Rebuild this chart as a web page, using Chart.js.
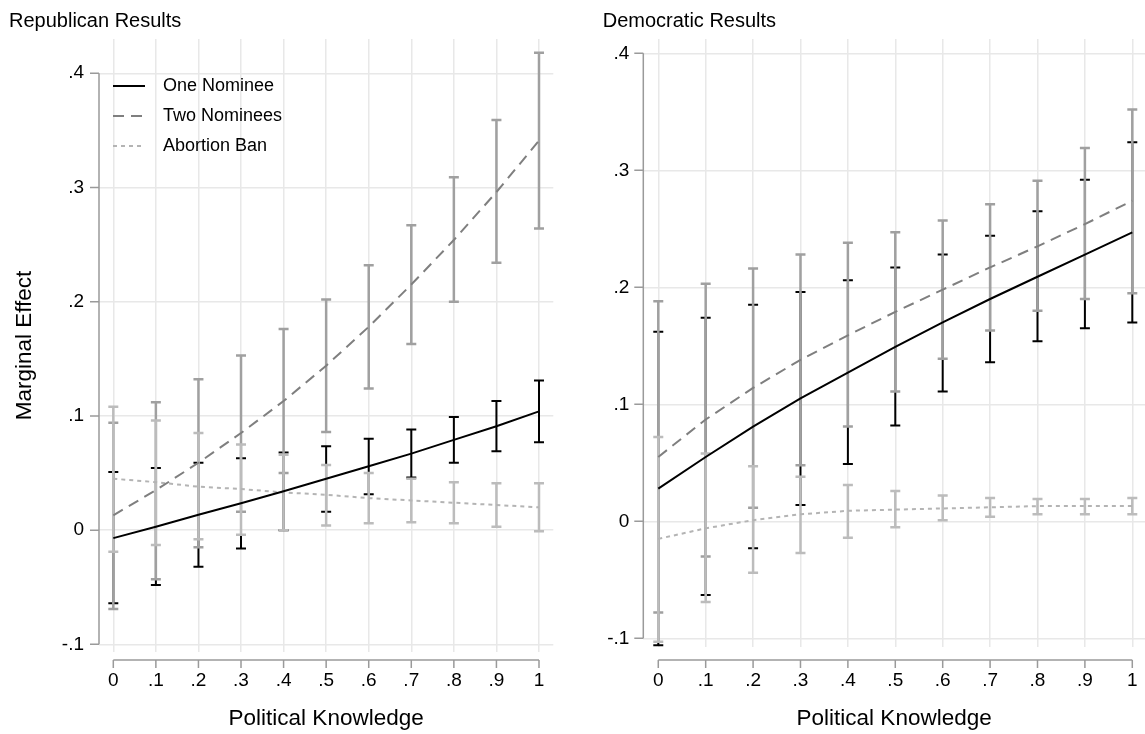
<!DOCTYPE html>
<html>
<head>
<meta charset="utf-8">
<script src="https://cdn.jsdelivr.net/npm/chart.js@4.4.1/dist/chart.umd.min.js"></script>
<style>
  html, body { margin: 0; padding: 0; background: #fff; }
  #wrap { position: relative; width: 1145px; height: 734px; overflow: hidden; }
  #left { position: absolute; left: 0; top: 0; }
  #right { position: absolute; left: 580px; top: 0; }
</style>
</head>
<body>
<div id="wrap">
  <canvas id="left" width="580" height="734"></canvas>
  <canvas id="right" width="565" height="734"></canvas>
</div>
<script>
//--- Data.
const xValues = [0, 0.1, 0.2, 0.3, 0.4, 0.5, 0.6, 0.7, 0.8, 0.9, 1];
const xTickLabels = ['0', '.1', '.2', '.3', '.4', '.5', '.6', '.7', '.8', '.9', '1'];
const yTicks = [-0.1, 0, 0.1, 0.2, 0.3, 0.4];
const yTickLabels = ['-.1', '0', '.1', '.2', '.3', '.4'];
const seriesNames = ['One Nominee', 'Two Nominees', 'Abortion Ban'];

// Republican results.
const repOne   = [-0.007, 0.003, 0.0135, 0.0235, 0.034, 0.045, 0.056, 0.067, 0.079, 0.091, 0.104];
const repOneLo = [-0.064, -0.048, -0.032, -0.016, 0.000, 0.016, 0.0315, 0.046, 0.059, 0.069, 0.077];
const repOneHi = [0.051, 0.0545, 0.059, 0.063, 0.068, 0.0735, 0.080, 0.088, 0.099, 0.113, 0.131];
const repTwo   = [0.013, 0.035, 0.059, 0.085, 0.113, 0.144, 0.178, 0.215, 0.254, 0.296, 0.341];
const repTwoLo = [-0.069, -0.043, -0.015, 0.016, 0.050, 0.086, 0.124, 0.163, 0.200, 0.234, 0.264];
const repTwoHi = [0.094, 0.112, 0.132, 0.153, 0.176, 0.202, 0.232, 0.267, 0.309, 0.359, 0.418];
const repBan   = [0.045, 0.042, 0.038, 0.036, 0.033, 0.031, 0.028, 0.026, 0.024, 0.022, 0.020];
const repBanLo = [-0.019, -0.013, -0.008, -0.004, 0.000, 0.004, 0.006, 0.007, 0.006, 0.003, -0.001];
const repBanHi = [0.108, 0.096, 0.085, 0.075, 0.066, 0.057, 0.050, 0.045, 0.042, 0.041, 0.041];

// Democratic results.
const demOne   = [0.028, 0.055, 0.081, 0.105, 0.127, 0.149, 0.170, 0.190, 0.209, 0.228, 0.247];
const demOneLo = [-0.106, -0.063, -0.023, 0.014, 0.049, 0.082, 0.111, 0.136, 0.154, 0.165, 0.170];
const demOneHi = [0.162, 0.174, 0.185, 0.196, 0.206, 0.217, 0.228, 0.244, 0.265, 0.292, 0.324];
const demTwo   = [0.055, 0.087, 0.114, 0.138, 0.159, 0.179, 0.198, 0.217, 0.235, 0.254, 0.274];
const demTwoLo = [-0.078, -0.030, 0.0115, 0.048, 0.081, 0.111, 0.139, 0.163, 0.180, 0.190, 0.195];
const demTwoHi = [0.188, 0.203, 0.216, 0.228, 0.238, 0.247, 0.257, 0.271, 0.291, 0.319, 0.352];
const demBan   = [-0.015, -0.006, 0.001, 0.006, 0.009, 0.010, 0.011, 0.012, 0.013, 0.013, 0.013];
const demBanLo = [-0.103, -0.069, -0.044, -0.027, -0.014, -0.005, 0.001, 0.004, 0.006, 0.006, 0.006];
const demBanHi = [0.072, 0.058, 0.047, 0.038, 0.031, 0.026, 0.022, 0.020, 0.019, 0.019, 0.020];

Chart.defaults.font.family = '"Liberation Sans", Arial, Helvetica, sans-serif';
Chart.defaults.color = '#000';

const gridColor = '#e8e8e8';
const axisColor = '#9a9a9a';

//--- Error bars with caps (drawn under the lines).
const stataBars = {
  id: 'stataBars',
  beforeDatasetsDraw(chart) {
    const { ctx, scales: { x, y } } = chart;
    ctx.save();
    ctx.setLineDash([]);
    chart.data.datasets.forEach(ds => {
      ctx.strokeStyle = ds.barColor;
      ctx.lineWidth = ds.barWidth;
      ds.data.forEach((p, i) => {
        const px = x.getPixelForValue(p.x);
        const lo = y.getPixelForValue(ds.lower[i]);
        const hi = y.getPixelForValue(ds.upper[i]);
        ctx.beginPath();
        ctx.moveTo(px, lo);
        ctx.lineTo(px, hi);
        ctx.moveTo(px - 5, lo);
        ctx.lineTo(px + 5, lo);
        ctx.moveTo(px - 5, hi);
        ctx.lineTo(px + 5, hi);
        ctx.stroke();
      });
    });
    ctx.restore();
  }
};

//--- Offset axis lines, the way Stata draws them.
const stataAxes = {
  id: 'stataAxes',
  afterDraw(chart, args, opts) {
    const { ctx, chartArea, scales: { x, y } } = chart;
    ctx.save();
    ctx.strokeStyle = axisColor;
    ctx.lineWidth = 1.5;
    ctx.beginPath();
    // y axis
    ctx.moveTo(chartArea.left, y.getPixelForValue(yTicks[0]));
    ctx.lineTo(chartArea.left, y.getPixelForValue(yTicks[yTicks.length - 1]));
    yTicks.forEach(v => {
      const py = y.getPixelForValue(v);
      ctx.moveTo(chartArea.left - 9, py);
      ctx.lineTo(chartArea.left, py);
    });
    // x axis
    const ay = chartArea.bottom + opts.gap;
    ctx.moveTo(x.getPixelForValue(xValues[0]), ay);
    ctx.lineTo(x.getPixelForValue(xValues[xValues.length - 1]), ay);
    xValues.forEach(v => {
      const px = x.getPixelForValue(v);
      ctx.moveTo(px, ay);
      ctx.lineTo(px, ay + 8);
    });
    ctx.stroke();
    ctx.restore();
  }
};

//--- Legend inside the plot region.
const stataLegend = {
  id: 'stataLegend',
  afterDraw(chart, args, opts) {
    if (!opts.display) {
      return;
    }
    const { ctx, chartArea } = chart;
    ctx.save();
    ctx.font = '18px "Liberation Sans", Arial, sans-serif';
    ctx.textBaseline = 'middle';
    ctx.textAlign = 'left';
    chart.data.datasets.forEach((ds, i) => {
      const x0 = chartArea.left + opts.left;
      const yy = chartArea.top + opts.top + opts.pitch * i;
      ctx.strokeStyle = ds.borderColor;
      ctx.lineWidth = ds.borderWidth;
      ctx.setLineDash(ds.borderDash || []);
      ctx.beginPath();
      ctx.moveTo(x0, yy);
      ctx.lineTo(x0 + opts.sample, yy);
      ctx.stroke();
      ctx.fillStyle = '#000';
      ctx.fillText(ds.label, x0 + opts.sample + opts.gap, yy);
    });
    ctx.restore();
  }
};

function points(values) {
  return values.map((v, i) => ({ x: xValues[i], y: v }));
}

function makeDatasets(one, oneLo, oneHi, two, twoLo, twoHi, ban, banLo, banHi) {
  return [
    {
      label: seriesNames[0], data: points(one), lower: oneLo, upper: oneHi,
      borderColor: '#000', borderWidth: 2, barColor: '#000', barWidth: 2
    },
    {
      label: seriesNames[1], data: points(two), lower: twoLo, upper: twoHi,
      borderColor: '#7f7f7f', borderWidth: 2, borderDash: [11, 7], barColor: '#a0a0a0', barWidth: 2.5
    },
    {
      label: seriesNames[2], data: points(ban), lower: banLo, upper: banHi,
      borderColor: '#b4b4b4', borderWidth: 2, borderDash: [4, 4], barColor: '#bcbcbc', barWidth: 2.5
    }
  ];
}

function initPanel(canvas, cfg) {
  return new Chart(canvas, {
    type: 'line',
    data: { datasets: cfg.datasets },
    options: {
      responsive: false,
      animation: false,
      events: [],
      elements: { point: { radius: 0 }, line: { tension: 0 } },
      layout: { padding: { left: cfg.padLeft, right: cfg.padRight, top: 0, bottom: 0 } },
      scales: {
        x: {
          type: 'linear',
          min: cfg.xMin,
          max: cfg.xMax,
          afterBuildTicks: s => { s.ticks = xValues.map(v => ({ value: v })); },
          afterFit: s => {
            s.height = cfg.xAxisHeight;
            s.paddingLeft = 0;
            s.paddingRight = 0;
          },
          grid: { color: gridColor, lineWidth: 1.5, drawTicks: false },
          border: { display: false },
          ticks: {
            autoSkip: false, maxRotation: 0, padding: cfg.xTickPad,
            font: { size: 19 },
            callback: (v, i) => xTickLabels[i]
          },
          title: {
            display: true, text: 'Political Knowledge',
            font: { size: 22.5 }, padding: { top: 0, bottom: 2 }
          }
        },
        y: {
          type: 'linear',
          min: cfg.yMin,
          max: cfg.yMax,
          afterBuildTicks: s => { s.ticks = yTicks.map(v => ({ value: v })); },
          afterFit: s => {
            s.width = cfg.yAxisWidth;
            s.paddingTop = 0;
            s.paddingBottom = 0;
          },
          grid: { color: gridColor, lineWidth: 1.5, drawTicks: false },
          border: { display: false },
          ticks: {
            autoSkip: false, padding: cfg.yTickPad,
            font: { size: 19 },
            callback: (v, i) => yTickLabels[i]
          },
          title: {
            display: cfg.yTitle !== '', text: cfg.yTitle,
            font: { size: 22.5 }, padding: { top: 2, bottom: 0 }
          }
        }
      },
      plugins: {
        legend: { display: false },
        tooltip: { enabled: false },
        title: {
          display: true, text: cfg.title, align: 'start',
          font: { size: 20, weight: 'normal' }, color: '#000',
          padding: { top: 9.7, bottom: 5.3 }
        },
        stataAxes: { gap: cfg.axisGap },
        stataLegend: { display: cfg.legend, left: 14, top: 47, pitch: 30, sample: 32, gap: 18 }
      }
    },
    plugins: [stataBars, stataAxes, stataLegend]
  });
}

initPanel(document.getElementById('left'), {
  title: 'Republican Results',
  yTitle: 'Marginal Effect',
  legend: true,
  datasets: makeDatasets(repOne, repOneLo, repOneHi, repTwo, repTwoLo, repTwoHi, repBan, repBanLo, repBanHi),
  padLeft: 9, padRight: 26.7,
  yAxisWidth: 90, xAxisHeight: 82,
  xMin: -0.0336, xMax: 1.0336,
  yMin: -0.1067, yMax: 0.430,
  xTickPad: 17, yTickPad: 15, axisGap: 8
});

initPanel(document.getElementById('right'), {
  title: 'Democratic Results',
  yTitle: '',
  legend: false,
  datasets: makeDatasets(demOne, demOneLo, demOneHi, demTwo, demTwoLo, demTwoHi, demBan, demBanLo, demBanHi),
  padLeft: 22.7, padRight: 0,
  yAxisWidth: 40.6, xAxisHeight: 87,
  xMin: -0.0316, xMax: 1.0268,
  yMin: -0.1074, yMax: 0.4122,
  xTickPad: 22, yTickPad: 14, axisGap: 13
});
</script>
</body>
</html>
